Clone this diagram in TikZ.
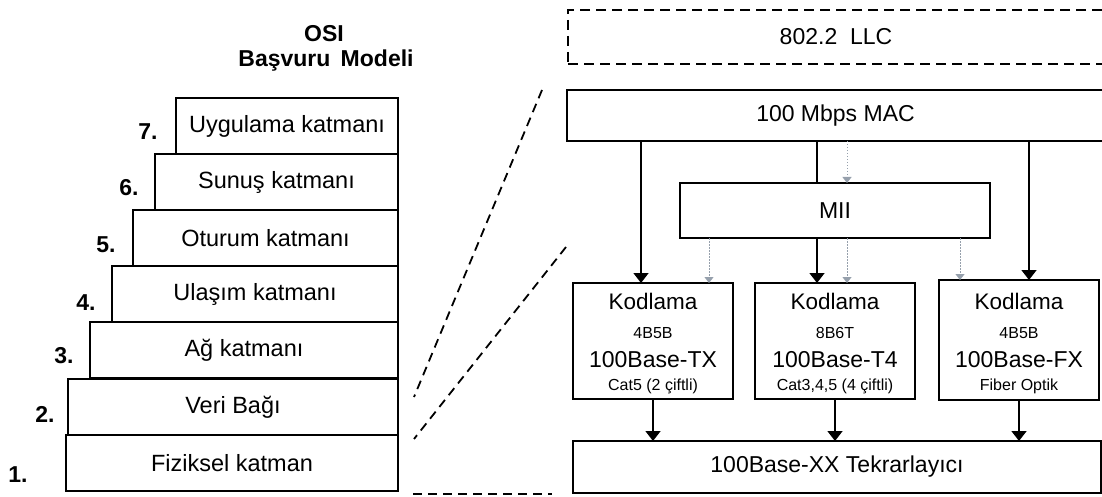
\documentclass[tikz,border=0pt]{standalone}
\usepackage{fontspec}
\setmainfont{Liberation Sans}
\usetikzlibrary{arrows.meta}
\definecolor{linkgray}{RGB}{150,160,172}

\begin{document}
\begin{tikzpicture}[x=1pt,y=-1pt,
  every node/.style={inner sep=0pt, outer sep=0pt},
  layer/.style={draw, line width=2.6pt, anchor=north west, minimum height=56pt,
                font=\fontsize{23.5}{26}\selectfont},
  num/.style={font=\bfseries\fontsize{23}{26}\selectfont},
  head/.style={font=\bfseries\fontsize{23}{26}\selectfont},
  rbox/.style={draw, line width=2pt, fill=white, anchor=north west,
               font=\fontsize{23}{26}\selectfont},
  big/.style={anchor=base, font=\fontsize{23}{26}\selectfont},
  mid/.style={anchor=base, font=\fontsize{22.5}{24}\selectfont},
  small/.style={anchor=base, font=\fontsize{16}{18}\selectfont},
  guide/.style={line width=1.8pt, dash pattern=on 9pt off 6pt},
  barrow/.style={line width=1.6pt, -{Triangle[width=15pt,length=10pt]}},
  garrow/.style={draw=linkgray, line width=1pt, dash pattern=on 1.5pt off 1.5pt,
                 -{Triangle[width=9pt,length=6pt,fill=linkgray]}},
]
\useasboundingbox (0,0) rectangle (1102,497);

% ---- OSI reference model stack ----
\node[head] (osi) at (324,34) {OSI};
\node[head] (ref) at (326,61) {Başvuru\hspace{0.45em}Modeli};

\node[layer, minimum width=222pt] (l7) at (176,98)  {Uygulama katmanı};
\node[layer, minimum width=243pt] (l6) at (155,154) {Sunuş katmanı};
\node[layer, minimum width=265pt] (l5) at (133,210) {Oturum katmanı};
\node[layer, minimum width=286pt] (l4) at (112,266) {Ulaşım katmanı};
\node[layer, minimum width=308pt] (l3) at (90,322)  {Ağ katmanı};
\node[layer, minimum width=330pt] (l2) at (68,379)  {Veri Bağı};
\node[layer, minimum width=332pt] (l1) at (66,435)  {Fiziksel katman};

\node[num] (n7) at (148,132) {7.};
\node[num] (n6) at (129,188) {6.};
\node[num] (n5) at (106,245) {5.};
\node[num] (n4) at (86,303)  {4.};
\node[num] (n3) at (64,356)  {3.};
\node[num] (n2) at (45,414)  {2.};
\node[num] (n1) at (18,475)  {1.};

% ---- zoom guides from the stack to the Fast Ethernet layers ----
\coordinate (gA1) at (542,90);
\coordinate (gA2) at (414,397);
\coordinate (gB1) at (566,247);
\coordinate (gB2) at (414,439);
\coordinate (gC1) at (413,494);
\coordinate (gC2) at (552,494);
\draw[guide] (gA1) -- (gA2);
\draw[guide] (gB1) -- (gB2);
\draw[guide] (gC1) -- (gC2);

% ---- Fast Ethernet layers ----
\node[rbox, dash pattern=on 10pt off 6pt, minimum width=536pt, minimum height=54pt]
  (llc) at (568,10) {802.2~~LLC};
\node[rbox, minimum width=537pt, minimum height=51pt] (mac) at (567,90) {100 Mbps MAC};

\node[rbox, minimum width=160pt, minimum height=116pt] (kodA) at (573,283) {};
\node[rbox, minimum width=160pt, minimum height=116pt] (kodB) at (755,283) {};
\node[rbox, minimum width=160pt, minimum height=120pt] (kodC) at (939,280) {};
\node[rbox, minimum width=528pt, minimum height=52pt] (rep) at (573,441)
  {100Base-XX Tekrarlayıcı};

\node[mid]   (kA1) at (653,309) {Kodlama};
\node[small] (kA2) at (653,338) {4B5B};
\node[big]   (kA3) at (653,367) {100Base-TX};
\node[small] (kA4) at (653,390) {Cat5 (2 çiftli)};

\node[mid]   (kB1) at (835,309) {Kodlama};
\node[small] (kB2) at (835,338) {8B6T};
\node[big]   (kB3) at (835,367) {100Base-T4};
\node[small] (kB4) at (835,390) {Cat3,4,5 (4 çiftli)};

\node[mid]   (kC1) at (1019,309) {Kodlama};
\node[small] (kC2) at (1019,338) {4B5B};
\node[big]   (kC3) at (1019,367) {100Base-FX};
\node[small] (kC4) at (1019,390) {Fiber Optik};

% columns of the vertical links
\coordinate (xA) at (641,0);
\coordinate (xB) at (817,0);
\coordinate (xC) at (1029,0);
\coordinate (xG) at (847,0);
\coordinate (xH) at (709,0);
\coordinate (xI) at (960,0);

% MAC straight down to the coding blocks
\draw[barrow] (mac.south -| xA) -- (kodA.north -| xA);
\draw[barrow] (mac.south -| xB) -- (kodB.north -| xB);
\draw[barrow] (mac.south -| xC) -- (kodC.north -| xC);

% MII sits over the middle link
\node[rbox, minimum width=310pt, minimum height=55pt] (mii) at (680,183) {MII};

% paths through the MII
\draw[garrow] (mac.south -| xG) -- (mii.north -| xG);
\draw[garrow] (mii.south -| xH) -- (kodA.north -| xH);
\draw[garrow] (mii.south -| xG) -- (kodB.north -| xG);
\draw[garrow] (mii.south -| xI) -- (kodC.north -| xI);

% coding blocks to the repeater
\draw[barrow] (kodA.south) -- (rep.north -| kodA.south);
\draw[barrow] (kodB.south) -- (rep.north -| kodB.south);
\draw[barrow] (kodC.south) -- (rep.north -| kodC.south);
\end{tikzpicture}
\end{document}
